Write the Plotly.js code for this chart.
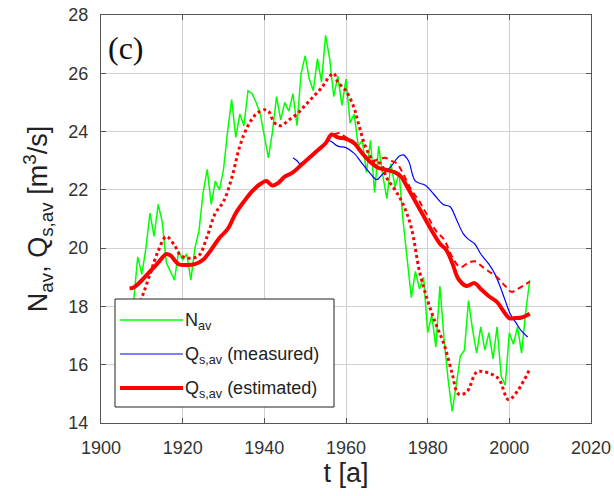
<!DOCTYPE html>
<html><head><meta charset="utf-8">
<script src="https://cdn.plot.ly/plotly-3.0.1.min.js"></script>
<style>html,body{margin:0;padding:0;background:#fff}#chart{width:614px;height:496px}</style>
</head><body><div id="chart"></div>
<script>
// N_av (annual)
const nYears = [];
for (let y = 1908; y <= 2005; y++) nYears.push(y);
const nValues = [18.2,19.7,19.1,20.0,21.2,20.4,21.5,20.9,19.5,19.2,18.9,19.9,19.6,19.8,18.9,20.0,20.6,21.9,22.7,21.5,22.3,22.0,22.7,24.0,25.1,23.8,24.6,24.2,25.4,25.3,25.0,24.6,23.9,23.1,24.0,25.2,24.4,25.0,24.7,25.3,24.2,26.0,26.6,25.8,25.4,26.5,25.7,27.3,26.5,25.2,25.9,24.9,25.8,24.3,24.6,23.5,23.7,22.6,23.7,21.9,23.5,22.5,21.7,22.9,22.1,22.6,20.9,19.5,18.3,19.2,18.6,19.0,17.1,17.7,16.6,18.7,16.9,15.5,14.4,15.3,16.3,16.5,18.2,17.2,16.4,17.3,16.5,17.1,16.2,17.3,15.6,15.3,17.1,16.7,17.3,16.4,17.8,18.9];

// smoothed N_av (red dotted)
const smYears = [1908,1910,1912,1914,1916,1918,1919.5,1922,1924,1926,1928,1930,1932,1934,1936,1938,1940,1941,1942.5,1944,1946,1948,1950,1952,1954,1956,1957,1958,1960,1962,1963,1965,1967,1968.5,1970,1972,1974,1976,1978,1980,1982,1984,1986,1987.5,1989.5,1992,1994,1996,1997.5,1999.8,2002,2005];
const smValues = [17.6,18.3,19.1,19.9,20.4,20.1,19.75,19.65,19.75,20.4,21.2,21.6,22.4,23.5,24.2,24.6,24.75,24.7,24.3,24.2,24.4,24.6,24.9,25.2,25.5,25.9,26.0,25.7,25.4,24.8,24.3,23.4,22.95,22.9,22.4,22.0,21.5,20.7,19.2,18.2,17.4,16.7,15.7,15.0,15.05,15.75,15.75,15.65,15.5,14.8,15.1,15.85];

// Q_s,av estimated (red solid)
const estYears = [1907,1908,1910,1912,1914,1916,1917,1919,1921,1923,1925,1927,1929,1931,1933,1935,1937,1939,1940.5,1942,1943.5,1945,1947,1949,1951,1953,1955,1956.5,1958,1960,1962,1964,1966,1968,1970,1972,1973.5,1975,1977,1979,1981,1983,1984.5,1986,1987.5,1989.5,1991.5,1993,1995,1997,1998.5,2000,2001.5,2003,2005];
const estValues = [18.62,18.65,18.9,19.2,19.5,19.8,19.75,19.45,19.42,19.45,19.6,19.95,20.35,20.65,21.2,21.6,21.95,22.2,22.3,22.15,22.25,22.45,22.6,22.85,23.1,23.35,23.6,23.9,23.8,23.75,23.6,23.25,22.95,22.75,22.68,22.6,22.45,22.1,21.6,21.1,20.6,20.15,19.95,19.5,18.95,18.7,18.8,18.6,18.35,18.15,17.85,17.6,17.6,17.62,17.75];

// second estimate (red dashed)
const est2Years = [1957,1958.5,1960,1962,1964,1966,1968,1969.5,1971,1972.5,1974,1976,1978,1980,1982,1984,1986,1988,1990,1991.5,1993.5,1995,1997,1999,2000.5,2002,2005];
const est2Values = [23.9,23.95,23.8,23.65,23.3,23.0,23.05,23.1,23.0,22.9,22.55,22.0,21.6,21.1,20.6,20.3,19.7,19.35,19.5,19.55,19.35,19.2,19.0,18.7,18.5,18.6,18.85];

// Q_s,av measured (blue)
const measYears = [1947,1948,1948.7,1950,1952,1954,1955.5,1956.5,1958,1960,1962,1964,1966,1967.5,1969,1971,1973,1974,1975.3,1977,1979.5,1981.5,1983.8,1985.5,1987,1988.7,1990,1991.5,1993,1995,1996.5,1997.7,1999,2000.2,2001.8,2003,2004.5];
const measValues = [23.1,23.0,22.9,23.0,23.2,23.45,23.7,23.65,23.5,23.45,23.25,22.9,22.55,22.35,22.55,22.8,23.15,23.2,23.0,22.3,22.15,21.85,21.5,21.42,21.0,20.5,20.3,20.15,19.8,19.45,19.1,18.7,18.2,17.75,17.4,17.15,16.95];

const legendLabels = ['N<sub>av</sub>', 'Q<sub>s,av</sub> (measured)', 'Q<sub>s,av</sub> (estimated)'];

const traces = [
  {x: nYears, y: nValues, mode: 'lines', line: {color: '#00ff00', width: 1.5}},
  {x: measYears, y: measValues, mode: 'lines', line: {color: '#0000ff', width: 1.2, shape: 'spline'}},
  {x: smYears, y: smValues, mode: 'lines', line: {color: '#ff0000', width: 3, dash: 'dot', shape: 'spline'}},
  {x: est2Years, y: est2Values, mode: 'lines', line: {color: '#ff0000', width: 2, dash: '6px,4px', shape: 'spline'}},
  {x: estYears, y: estValues, mode: 'lines', line: {color: '#ff0000', width: 4, shape: 'spline'}}
];

// legend box (paper coordinates)
const W = 614, H = 496, L = 101, R = 23, T = 15, B = 73;
const pw = W - L - R, ph = H - T - B;
const px = v => (v - L) / pw;
const py = v => 1 - (v - T) / ph;

const shapes = [
  {type: 'rect', xref: 'paper', yref: 'paper', x0: px(115), x1: px(334), y0: py(407), y1: py(299), line: {color: '#222', width: 1}, fillcolor: '#fff', layer: 'above'}
];
const legColors = ['#00ff00', '#0000ff', '#ff0000'];
const legWidths = [1.5, 1.2, 4];
const legY = [320, 354, 388];
const annotations = [];
legendLabels.forEach((lab, i) => {
  shapes.push({type: 'line', xref: 'paper', yref: 'paper', x0: px(120), x1: px(183), y0: py(legY[i]), y1: py(legY[i]), line: {color: legColors[i], width: legWidths[i]}, layer: 'above'});
  annotations.push({xref: 'paper', yref: 'paper', x: px(183), y: py(legY[i] + 1), xanchor: 'left', yanchor: 'middle', text: lab, showarrow: false, font: {family: 'Liberation Sans, Arial', size: 18, color: '#222'}});
});
annotations.push({xref: 'paper', yref: 'paper', x: px(106), y: py(48), xanchor: 'left', yanchor: 'middle', text: '(c)', showarrow: false, font: {family: 'Liberation Serif, Times New Roman', size: 32, color: '#111'}});

const layout = {
  width: W, height: H,
  margin: {l: L, r: R, t: T, b: B},
  paper_bgcolor: '#fff', plot_bgcolor: '#fff',
  showlegend: false,
  font: {family: 'Liberation Sans, Arial', color: '#333'},
  xaxis: {
    range: [1900, 2020], tickvals: [1900, 1920, 1940, 1960, 1980, 2000, 2020],
    ticks: 'inside', ticklen: 5, tickcolor: '#555', showline: true, linecolor: '#555', linewidth: 1, mirror: 'ticks',
    showgrid: true, gridcolor: '#d0d0d0', gridwidth: 1, zeroline: false,
    tickfont: {size: 18, color: '#333'}, ticklabelstandoff: 8,
    title: {text: 't [a]', font: {size: 27, color: '#222'}, standoff: 6}
  },
  yaxis: {
    range: [14, 28], dtick: 2,
    ticks: 'inside', ticklen: 5, tickcolor: '#555', showline: true, linecolor: '#555', linewidth: 1, mirror: 'ticks',
    showgrid: true, gridcolor: '#d0d0d0', gridwidth: 1, zeroline: false,
    tickfont: {size: 18, color: '#333'}, ticklabelstandoff: 8,
    title: {text: 'N<sub>av</sub>, Q<sub>s,av</sub> [m<sup>3</sup>/s]', font: {size: 27, color: '#222'}, standoff: 12}
  },
  shapes: shapes,
  annotations: annotations
};

Plotly.newPlot('chart', traces, layout, {staticPlot: true, displayModeBar: false});
</script>
</body></html>
